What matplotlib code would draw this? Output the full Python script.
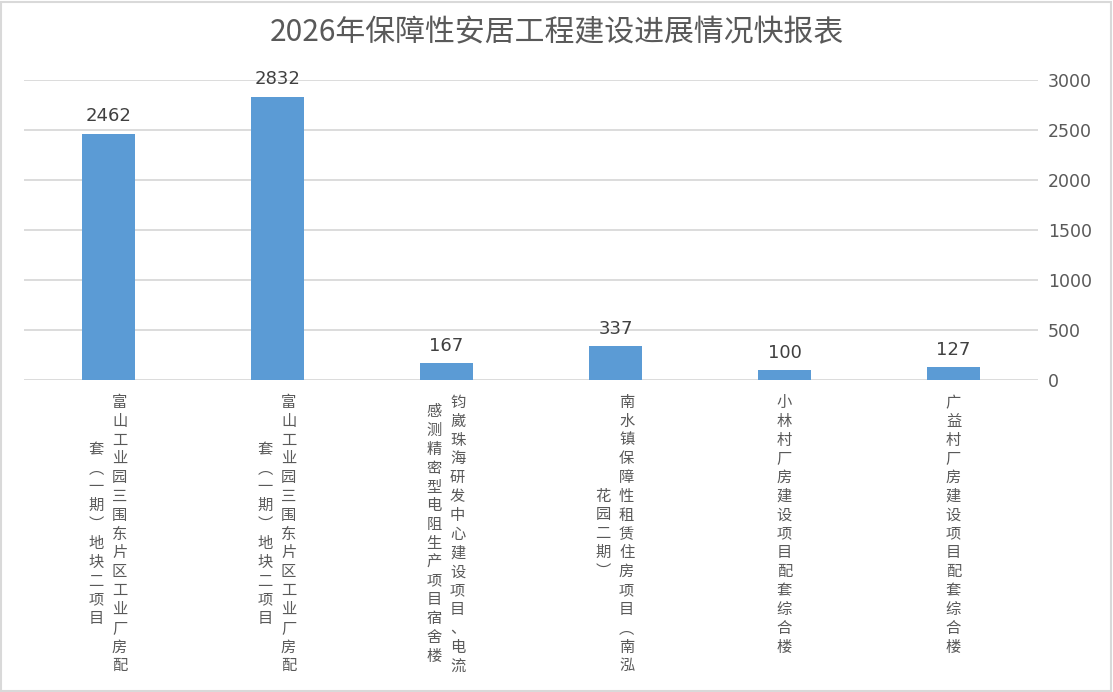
import matplotlib
matplotlib.use("Agg")
import matplotlib.pyplot as plt
from matplotlib.patches import Rectangle

plt.rcParams["font.family"] = ["Noto Sans CJK SC", "DejaVu Sans"]

TITLE = "2026年保障性安居工程建设进展情况快报表"

# order as it appears left to right in the reference
projects = [
    "富山工业园三围东片区工业厂房配套︵一期︶地块二项目",
    "富山工业园三围东片区工业厂房配套︵一期︶地块二项目",
    "钧崴珠海研发中心建设项目、电流感测精密型电阻生产项目宿舍楼",
    "南水镇保障性租赁住房项目︵南泓花园二期︶",
    "小林村厂房建设项目配套综合楼",
    "广益村厂房建设项目配套综合楼",
]
units = [2462, 2832, 167, 337, 100, 127]
y_ticks = [0, 500, 1000, 1500, 2000, 2500, 3000]

BAR_COLOR = "#5b9bd5"
GRID_COLOR = "#d9d9d9"
TEXT_COLOR = "#595959"
CHARS_PER_COL = 15
W, H = 1113, 692

fig = plt.figure(figsize=(W / 100, H / 100), dpi=100)
ax = fig.add_axes([24 / W, 1 - 380 / H, (1038 - 24) / W, 300 / H])

x = list(range(len(units)))
ax.bar(x, units, width=0.31, color=BAR_COLOR, zorder=3)
ax.set_xlim(-0.5, len(units) - 0.5)
ax.set_ylim(0, 3000)
ax.set_yticks(y_ticks)
ax.yaxis.tick_right()
ax.tick_params(axis="y", length=0, pad=7, labelcolor=TEXT_COLOR)
for lab in ax.get_yticklabels():
    lab.set_fontfamily("DejaVu Sans")
    lab.set_fontsize(12.5)
ax.set_xticks([])
ax.grid(axis="y", color=GRID_COLOR, linewidth=1.3, zorder=0)
for s in ax.spines.values():
    s.set_visible(False)

for xi, v in zip(x, units):
    ax.annotate(str(v), (xi, v), xytext=(0, 6), textcoords="offset points",
                ha="center", va="bottom", fontsize=13, color="#404040",
                family="DejaVu Sans")

# vertical stacked category labels, first column on the right
row_pt = 13.5
for xi, name in zip(x, projects):
    cols = [name[i:i + CHARS_PER_COL] for i in range(0, len(name), CHARS_PER_COL)]
    if len(cols) == 1:
        offsets = [0]
    else:
        offsets = [8, -9]
    for col, dx in zip(cols, offsets):
        shift = (len(cols[0]) - len(col)) / 2 * row_pt
        ax.annotate("\n".join(col), (xi, 0), xycoords=("data", "axes fraction"),
                    xytext=(dx, -10 - shift), textcoords="offset points",
                    ha="center", va="top", fontsize=11, color=TEXT_COLOR,
                    linespacing=1.14)

fig.text(557 / W, 1 - 33 / H, TITLE, ha="center", va="center",
         fontsize=21.5, color=TEXT_COLOR)

fig.patches.append(Rectangle((1 / W, 1 / H), (W - 3) / W, (H - 3) / H,
                             transform=fig.transFigure, fill=False,
                             edgecolor=GRID_COLOR, linewidth=1.5))

fig.savefig("out.png", dpi=100)
